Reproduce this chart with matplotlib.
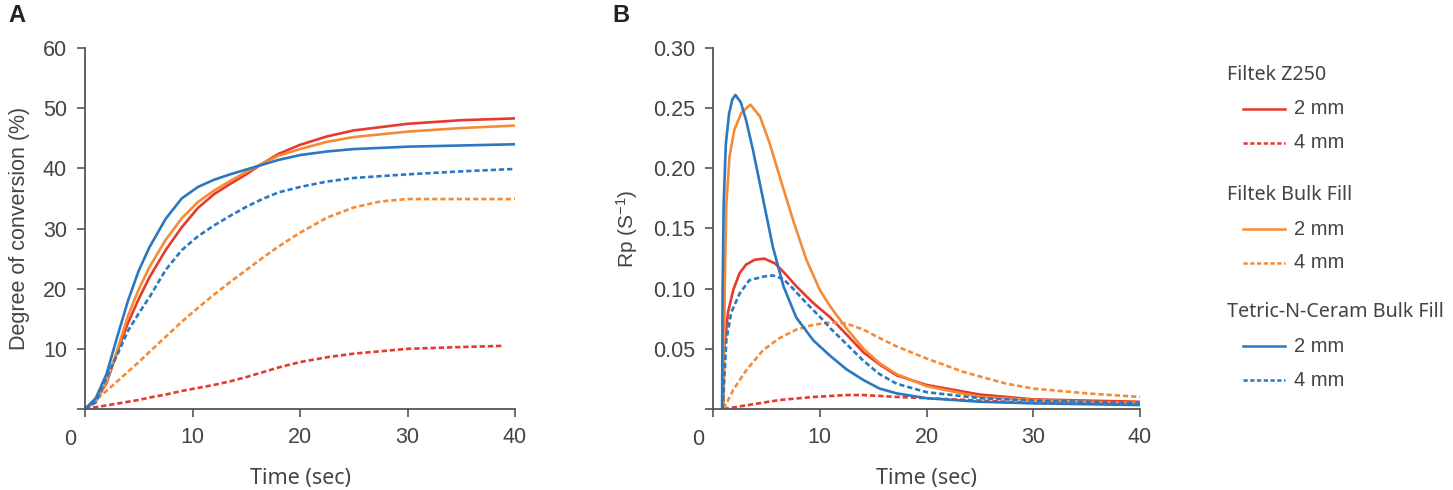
import matplotlib
matplotlib.use("Agg")
import matplotlib.pyplot as plt
from matplotlib.lines import Line2D

# =============================================================================
# Data - panel A : degree of conversion (%)
# =============================================================================
t_a = [0, 1, 2, 3, 4, 5, 6, 7.5, 9, 10.5, 12, 13.5, 15, 16.5, 18, 20, 22.5, 25, 30, 35, 40]
dc_z250_2 = [0, 1.3, 4.3, 9.5, 14.3, 18.3, 21.9, 26.4, 30.2, 33.4, 35.7, 37.4, 39.0, 40.8,
             42.4, 43.9, 45.3, 46.3, 47.4, 48.0, 48.3]
dc_bulk_2 = [0, 1.4, 4.5, 9.8, 15.5, 19.9, 23.6, 28.1, 31.7, 34.4, 36.3, 37.9, 39.4, 40.8,
             42.1, 43.2, 44.4, 45.2, 46.1, 46.7, 47.1]
dc_tetric_2 = [0, 1.8, 5.8, 12.0, 18.0, 23.0, 26.9, 31.6, 35.0, 36.9, 38.1, 39.0, 39.8, 40.6,
               41.4, 42.2, 42.8, 43.2, 43.6, 43.8, 44.0]
dc_tetric_4 = [0, 1.1, 5.2, 9.0, 13.0, 15.9, 18.6, 23.1, 26.4, 28.7, 30.5, 32.1, 33.6, 34.9,
               36.0, 36.9, 37.8, 38.4, 39.0, 39.5, 39.9]
t_a_bulk4 = [0, 1, 2, 3, 4, 5, 6, 7.5, 9, 10.5, 12, 13.5, 15, 16.5, 18, 20, 22.5, 25, 27.5, 30, 35, 40]
dc_bulk_4 = [0, 1.5, 3.0, 4.6, 6.2, 7.8, 9.5, 12.0, 14.5, 16.8, 19.0, 21.1, 23.1, 25.1,
             27.0, 29.3, 31.8, 33.5, 34.5, 34.9, 34.9, 34.9]
t_a_z4 = [0, 1, 2, 3, 4, 5, 6, 7.5, 9, 10.5, 12, 13.5, 15, 16.5, 18, 20, 22.5, 25, 30, 35, 39]
dc_z250_4 = [0, 0.3, 0.6, 0.9, 1.2, 1.5, 1.9, 2.4, 3.0, 3.5, 4.0, 4.6, 5.3, 6.1,
             6.9, 7.8, 8.6, 9.2, 10.0, 10.3, 10.5]

# =============================================================================
# Data - panel B : Rp (s-1)
# =============================================================================
t_z250_2 = [0.9, 1.0, 1.4, 1.9, 2.5, 3.1, 3.9, 4.8, 5.8, 6.7, 7.8, 9.4, 11, 12.5, 14.1,
            15.6, 17.2, 20, 25, 30, 35, 40]
rp_z250_2 = [0, 0.045, 0.080, 0.099, 0.113, 0.120, 0.124, 0.125, 0.121, 0.113, 0.102, 0.088,
             0.076, 0.062, 0.047, 0.037, 0.028, 0.020, 0.012, 0.008, 0.007, 0.006]
t_z250_4 = [1.0, 3.1, 6.25, 9.4, 12.5, 14.1, 17.2, 20, 25, 30, 35, 40]
rp_z250_4 = [0, 0.003, 0.0075, 0.010, 0.0116, 0.0116, 0.010, 0.009, 0.007, 0.005, 0.0045, 0.004]
t_bulk_2 = [1.0, 1.1, 1.25, 1.55, 2.0, 2.65, 3.5, 4.4, 5.3, 6.25, 7.5, 8.75, 10, 11, 12.5,
            14.1, 15.6, 17.2, 20, 25, 30, 35, 40]
rp_bulk_2 = [0, 0.10, 0.17, 0.21, 0.232, 0.246, 0.253, 0.243, 0.221, 0.193, 0.157, 0.124,
             0.099, 0.085, 0.067, 0.050, 0.038, 0.029, 0.019, 0.010, 0.0075, 0.006, 0.005]
t_bulk_4 = [1.0, 1.9, 3.1, 4.7, 6.25, 7.8, 9.4, 11, 12.5, 14.1, 15.6, 17.2, 20, 23.4, 25,
            27.5, 30, 35, 40]
rp_bulk_4 = [0, 0.016, 0.032, 0.049, 0.059, 0.066, 0.070, 0.072, 0.071, 0.066, 0.059, 0.052,
             0.042, 0.031, 0.027, 0.021, 0.017, 0.013, 0.010]
t_tetric_2 = [0.85, 0.9, 1.0, 1.2, 1.5, 1.8, 2.1, 2.6, 3.1, 3.75, 4.7, 5.6, 6.6, 7.8, 9.4,
              11, 12.5, 14.1, 15.6, 17.2, 20, 25, 30, 35, 40]
rp_tetric_2 = [0, 0.10, 0.17, 0.22, 0.245, 0.257, 0.261, 0.255, 0.240, 0.215, 0.174, 0.135,
               0.102, 0.076, 0.057, 0.044, 0.033, 0.024, 0.017, 0.013, 0.009, 0.006, 0.0047,
               0.004, 0.0033]
t_tetric_4 = [0.9, 1.25, 1.7, 2.5, 3.4, 4.7, 5.6, 6.6, 7.5, 8.75, 10.3, 11, 12.5, 14.1,
              15.6, 17.2, 20, 25, 30, 35, 40]
rp_tetric_4 = [0, 0.057, 0.080, 0.096, 0.107, 0.110, 0.111, 0.108, 0.100, 0.088, 0.074,
               0.067, 0.054, 0.040, 0.029, 0.021, 0.014, 0.009, 0.007, 0.006, 0.005]

groups = ['Filtek Z250', 'Filtek Bulk Fill', 'Tetric-N-Ceram Bulk Fill']
depths = ['2 mm', '4 mm']

# =============================================================================
# Style
# =============================================================================
RED = '#e8392d'
ORANGE = '#f68b35'
BLUE = '#2a78c2'
GREY = '#555555'
TXT = '#444444'
LW = 1.9
DASH = (2.0, 1.1)
TICKFONT = 'Liberation Sans'
LBLFONT = 'Noto Sans'

plt.rcParams['mathtext.fontset'] = 'custom'
plt.rcParams['mathtext.rm'] = TICKFONT
plt.rcParams['mathtext.it'] = TICKFONT

fig = plt.figure(figsize=(14.53, 4.90), dpi=100)
axA = fig.add_axes([85 / 1453, 81 / 490, 430 / 1453, 361 / 490])
axB = fig.add_axes([713 / 1453, 81 / 490, 427 / 1453, 361 / 490])


def style(ax, yticks, ylabels):
    for s in ['top', 'right']:
        ax.spines[s].set_visible(False)
    for s in ['left', 'bottom']:
        ax.spines[s].set_color(GREY)
        ax.spines[s].set_linewidth(1.3)
    ax.set_xlim(0, 40)
    ax.set_xticks([0, 10, 20, 30, 40])
    ax.set_xticklabels(['', '10', '20', '30', '40'])
    ax.set_yticks(yticks)
    ax.set_yticklabels(ylabels)
    ax.tick_params(length=6, width=1.2, color=GREY, labelcolor=TXT, labelsize=15.5, pad=7)
    for lab in ax.get_xticklabels() + ax.get_yticklabels():
        lab.set_family(TICKFONT)
    ax.text(-0.035, -0.085, '0', transform=ax.transAxes, ha='center', va='center',
            fontsize=15.5, color=TXT, family=TICKFONT)
    ax.set_xlabel('Time (sec)', fontsize=15.5, color=TXT, family=LBLFONT, labelpad=14)


# -- A --
axA.plot(t_a, dc_z250_2, color=RED, lw=LW)
axA.plot(t_a_z4, dc_z250_4, color=RED, lw=LW, dashes=DASH)
axA.plot(t_a, dc_bulk_2, color=ORANGE, lw=LW)
axA.plot(t_a_bulk4, dc_bulk_4, color=ORANGE, lw=LW, dashes=DASH)
axA.plot(t_a, dc_tetric_2, color=BLUE, lw=LW)
axA.plot(t_a, dc_tetric_4, color=BLUE, lw=LW, dashes=DASH)
axA.set_ylim(0, 60)
style(axA, [0, 10, 20, 30, 40, 50, 60], ['', '10', '20', '30', '40', '50', '60'])
axA.set_ylabel('Degree of conversion (%)', fontsize=15.5, color=TXT, family=TICKFONT, labelpad=9)

# -- B --
axB.plot(t_z250_2, rp_z250_2, color=RED, lw=LW)
axB.plot(t_z250_4, rp_z250_4, color=RED, lw=LW, dashes=DASH)
axB.plot(t_bulk_2, rp_bulk_2, color=ORANGE, lw=LW)
axB.plot(t_bulk_4, rp_bulk_4, color=ORANGE, lw=LW, dashes=DASH)
axB.plot(t_tetric_2, rp_tetric_2, color=BLUE, lw=LW)
axB.plot(t_tetric_4, rp_tetric_4, color=BLUE, lw=LW, dashes=DASH)
axB.set_ylim(0, 0.30)
style(axB, [0, 0.05, 0.10, 0.15, 0.20, 0.25, 0.30],
      ['', '0.05', '0.10', '0.15', '0.20', '0.25', '0.30'])
axB.set_ylabel('Rp (S$^{\\mathregular{-1}}$)', fontsize=15, color=TXT, family=TICKFONT,
               labelpad=9)

# panel letters
fig.text(8 / 1453, 1 - 16 / 490, 'A', fontsize=17, fontweight='bold', color='#222222',
         family=TICKFONT, va='center')
fig.text(612 / 1453, 1 - 16 / 490, 'B', fontsize=17, fontweight='bold', color='#222222',
         family=TICKFONT, va='center')

# =============================================================================
# Legend (grouped, drawn by hand in figure coords)
# =============================================================================
colors = [RED, ORANGE, BLUE]
title_y = [75, 195, 312]
for g, c, ty in zip(groups, colors, title_y):
    fig.text(1227 / 1453, 1 - ty / 490, g, fontsize=14.2, color=TXT, family=LBLFONT, va='center')
    for k, d in enumerate(depths):
        yy = 1 - (ty + 34 + 34 * k) / 490
        ln = Line2D([1243 / 1453, 1285 / 1453], [yy, yy], color=c, lw=1.8,
                    transform=fig.transFigure)
        if k == 1:
            ln.set_dashes((1.7, 1.0))
        fig.add_artist(ln)
        fig.text(1294 / 1453, yy, d, fontsize=14.5, color=TXT, family=TICKFONT, va='center')

fig.savefig('out.png', dpi=100)
